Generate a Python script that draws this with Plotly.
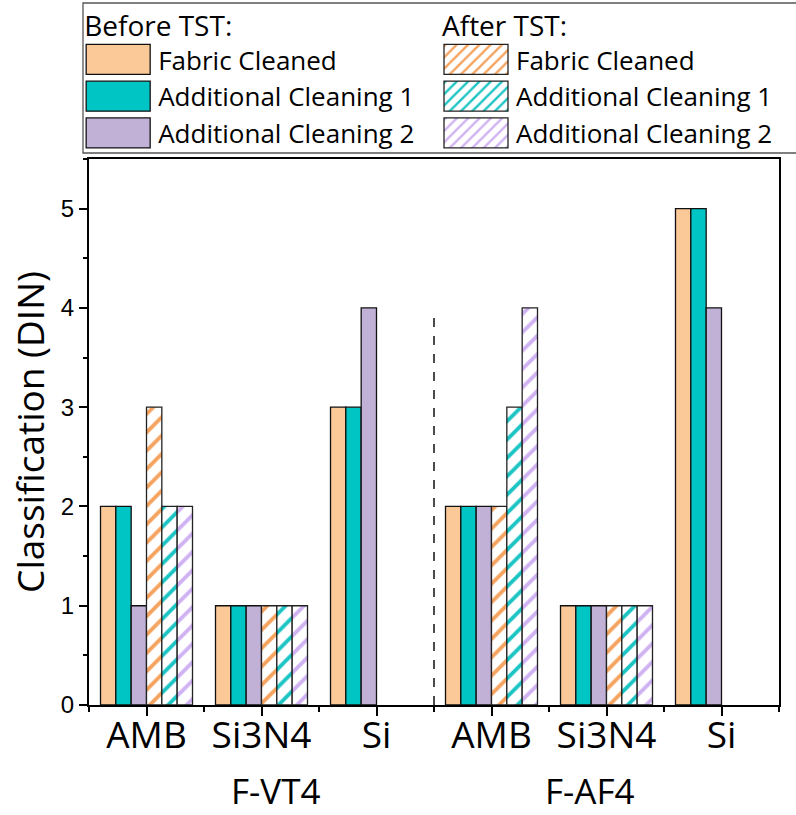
import plotly.graph_objects as go

# ---- data ----
groups = ["F-VT4", "F-VT4", "F-VT4", "F-AF4", "F-AF4", "F-AF4"]
categories = ["AMB", "Si3N4", "Si", "AMB", "Si3N4", "Si"]
group_names = ["F-VT4", "F-AF4"]

before_fabric = [2, 1, 3, 2, 1, 5]
before_add1 = [2, 1, 3, 2, 1, 5]
before_add2 = [1, 1, 4, 2, 1, 4]
after_fabric = [3, 1, None, 2, 1, None]
after_add1 = [2, 1, None, 3, 1, None]
after_add2 = [2, 1, None, 4, 1, None]

series_names = ["Fabric Cleaned", "Additional Cleaning 1", "Additional Cleaning 2"]
y_ticks = [0, 1, 2, 3, 4, 5]

# ---- styles ----
solid_colors = ["#FBC897", "#00C5C5", "#C1B1D6"]
hatch_colors = ["#F5A35E", "#1CC4C4", "#D0B2F3"]
HUM = "Open Sans, Noto Sans, sans-serif"
ARIAL = "Liberation Sans, Arial, sans-serif"

x_idx = list(range(len(categories)))

fig = go.Figure()
for name, vals, col in zip(series_names, [before_fabric, before_add1, before_add2], solid_colors):
    fig.add_trace(go.Bar(
        x=x_idx, y=vals, name=name, legend="legend",
        marker=dict(color=col, line=dict(color="#111111", width=1.3)),
    ))
for name, vals, col in zip(series_names, [after_fabric, after_add1, after_add2], hatch_colors):
    fig.add_trace(go.Bar(
        x=x_idx, y=vals, name=name, legend="legend2",
        marker=dict(color="white", line=dict(color="#222222", width=1.3),
                    pattern=dict(shape="/", fgcolor=col, bgcolor="white",
                                 size=13, solidity=0.3, fillmode="replace")),
    ))

n_first = groups.count(group_names[0])
sep_x = n_first - 0.5

fig.add_shape(type="line", xref="x", yref="y", x0=sep_x, x1=sep_x, y0=0, y1=3.9,
              line=dict(color="#111111", width=1.5, dash="dash"))

# legend frame
fig.add_shape(type="rect", xref="paper", yref="paper",
              x0=-0.0087, x1=1.03, y0=1.011, y1=1.2857,
              line=dict(color="#555555", width=1.3), fillcolor="rgba(0,0,0,0)")

# group labels
for gname, xp in zip(group_names, [0.27, 0.726]):
    fig.add_annotation(text=gname, xref="paper", yref="paper", x=xp, y=-0.1575,
                       showarrow=False, font=dict(family=HUM, size=35, color="black"),
                       xanchor="center", yanchor="middle")

LEG_FONT = 26
TITLE_FONT = 28
fig.update_layout(
    width=796, height=815,
    margin=dict(l=89, r=17, t=159, b=110, autoexpand=False),
    plot_bgcolor="white", paper_bgcolor="white",
    barmode="group", bargap=0.2, bargroupgap=0,
    showlegend=True,
    legend=dict(title=dict(text="Before TST:", font=dict(family=HUM, size=TITLE_FONT, color="black")),
                font=dict(family=HUM, size=LEG_FONT, color="black"),
                x=-0.0099, y=1.292, xanchor="left", yanchor="top",
                bgcolor="rgba(0,0,0,0)", borderwidth=0, itemwidth=66,
                tracegroupgap=0, itemclick=False),
    legend2=dict(title=dict(text="After TST:", font=dict(family=HUM, size=TITLE_FONT, color="black")),
                 font=dict(family=HUM, size=LEG_FONT, color="black"),
                 x=0.5087, y=1.292, xanchor="left", yanchor="top",
                 bgcolor="rgba(0,0,0,0)", borderwidth=0, itemwidth=66,
                 tracegroupgap=0, itemclick=False),
    xaxis=dict(range=[-0.5, len(categories) - 0.5], tickmode="array", tickvals=x_idx,
               ticktext=categories, tickfont=dict(family=HUM, size=37, color="black"),
               ticks="outside", ticklen=9, tickwidth=1.5, tickcolor="black",
               ticklabelstandoff=-12,
               showline=True, linecolor="black", linewidth=2, mirror=True,
               showgrid=False, zeroline=False,
               minor=dict(tickmode="array", tickvals=[i - 0.5 for i in range(len(categories) + 1)],
                          ticks="outside", ticklen=5, tickwidth=1.5, tickcolor="black")),
    yaxis=dict(range=[0, 5.5], tickmode="array", tickvals=y_ticks,
               tickfont=dict(family=ARIAL, size=24, color="black"),
               ticks="outside", ticklen=8, tickwidth=1.5, tickcolor="black",
               showline=True, linecolor="black", linewidth=2, mirror=True,
               showgrid=False, zeroline=False,
               title=dict(text="Classification (DIN)", font=dict(family=HUM, size=37, color="black"),
                          standoff=5),
               minor=dict(dtick=0.5, tick0=0, ticks="outside", ticklen=4, tickwidth=1.5,
                          tickcolor="black")),
)

post = """
document.body.style.margin = '0';
document.querySelectorAll('.legendpoints path').forEach(function(p){
  p.setAttribute('d','M32,15H-32V-15H32Z');
  p.setAttribute('transform','translate(36,0)');
});
"""

fig.write_html("out.html", post_script=post, config={"displayModeBar": False})
